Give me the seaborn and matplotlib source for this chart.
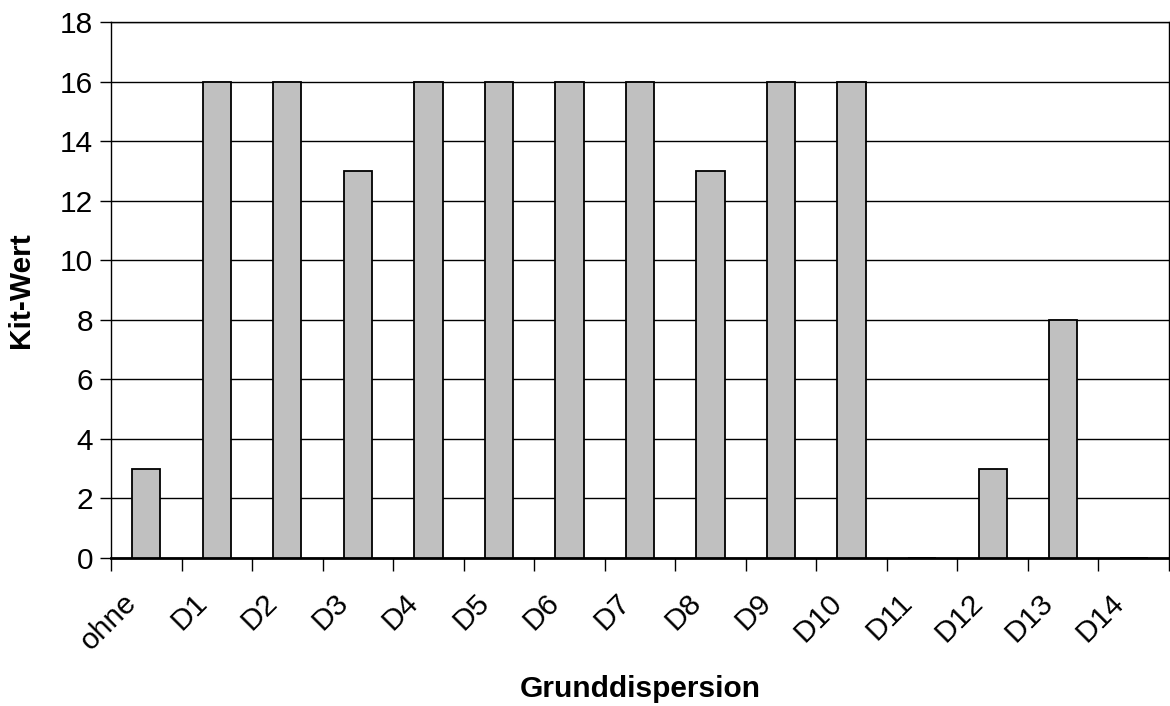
import numpy as np
import pandas as pd
import matplotlib
matplotlib.use("Agg")
import matplotlib.pyplot as plt
import matplotlib.transforms as mtransforms
import seaborn as sns

categories = ["ohne", "D1", "D2", "D3", "D4", "D5", "D6", "D7", "D8", "D9",
              "D10", "D11", "D12", "D13", "D14"]
kit_values = [3, 16, 16, 13, 16, 16, 16, 16, 13, 16, 16, 0, 3, 8, 0]
y_ticks = [0, 2, 4, 6, 8, 10, 12, 14, 16, 18]

sns.set_theme(style="white")
plt.rcParams["font.family"] = ["Liberation Sans", "DejaVu Sans"]
plt.rcParams.update({"text.color": "black", "axes.labelcolor": "black",
                     "xtick.color": "black", "ytick.color": "black"})

df = pd.DataFrame({"Grunddispersion": categories, "Kit-Wert": kit_values})

fig = plt.figure(figsize=(11.7, 7.06), dpi=100)
ax = fig.add_axes([111 / 1170, 148 / 706, 1058 / 1170, 536 / 706])

sns.barplot(data=df, x="Grunddispersion", y="Kit-Wert", order=categories,
            color="#C0C0C0", saturation=1, width=0.4,
            edgecolor="black", linewidth=1.3, ax=ax, zorder=3)

ax.set_xlim(-0.5, len(categories) - 0.5)
ax.set_ylim(0, 18)
ax.set_yticks(y_ticks)
ax.yaxis.grid(True, color="black", linewidth=1.0, zorder=0)
ax.set_axisbelow(True)

# category labels at centres, tick marks at category boundaries
ax.set_xticks(np.arange(len(categories)))
ax.set_xticklabels(categories, rotation=45, ha="right", rotation_mode="anchor")
ax.tick_params(axis="x", which="major", length=0, pad=22, labelsize=21.5)
ax.set_xticks(np.arange(len(categories) + 1) - 0.5, minor=True)
ax.tick_params(axis="x", which="minor", length=9, width=1, color="black",
               direction="out", bottom=True)
ax.tick_params(axis="y", length=8, width=1, color="black", direction="out",
               left=True, labelsize=21.5, pad=5)

offset = mtransforms.ScaledTranslation(-24 / 100, 0, fig.dpi_scale_trans)
for lbl in ax.get_xticklabels():
    lbl.set_transform(lbl.get_transform() + offset)

for side in ["left", "right", "top"]:
    ax.spines[side].set_color("black")
    ax.spines[side].set_linewidth(1.0)
ax.spines["bottom"].set_color("black")
ax.spines["bottom"].set_linewidth(2.0)

ax.set_xlabel("Grunddispersion", fontsize=21.5, fontweight="bold")
ax.set_ylabel("Kit-Wert", fontsize=21.5, fontweight="bold")
ax.xaxis.set_label_coords(0.5, -0.219)
ax.yaxis.set_label_coords(-0.072, 0.5)

fig.savefig("out.png", dpi=100, facecolor="white")
